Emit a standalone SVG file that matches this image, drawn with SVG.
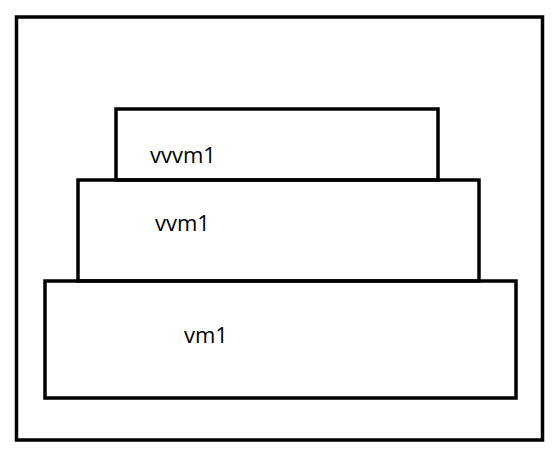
<svg xmlns="http://www.w3.org/2000/svg" width="554" height="450" viewBox="0 0 554 450">
<style>
rect{fill:none;stroke:#000;stroke-width:3.5}
text{font-family:"Open Sans","Liberation Sans",sans-serif;font-size:22px;fill:#000}
</style>
<rect x="0" y="0" width="554" height="450" style="fill:#fff;stroke:none"/>
<g id="outer"><rect x="16.5" y="17" width="526" height="423"/></g>
<g id="vvvm1"><rect x="116" y="109" width="322" height="71"/><text x="150" y="163">vvvm1</text></g>
<g id="vvm1"><rect x="78" y="180" width="401" height="101"/><text x="155" y="231">vvm1</text></g>
<g id="vm1"><rect x="45" y="281" width="471" height="117"/><text x="184" y="343">vm1</text></g>
<g id="connectors"></g>
</svg>
